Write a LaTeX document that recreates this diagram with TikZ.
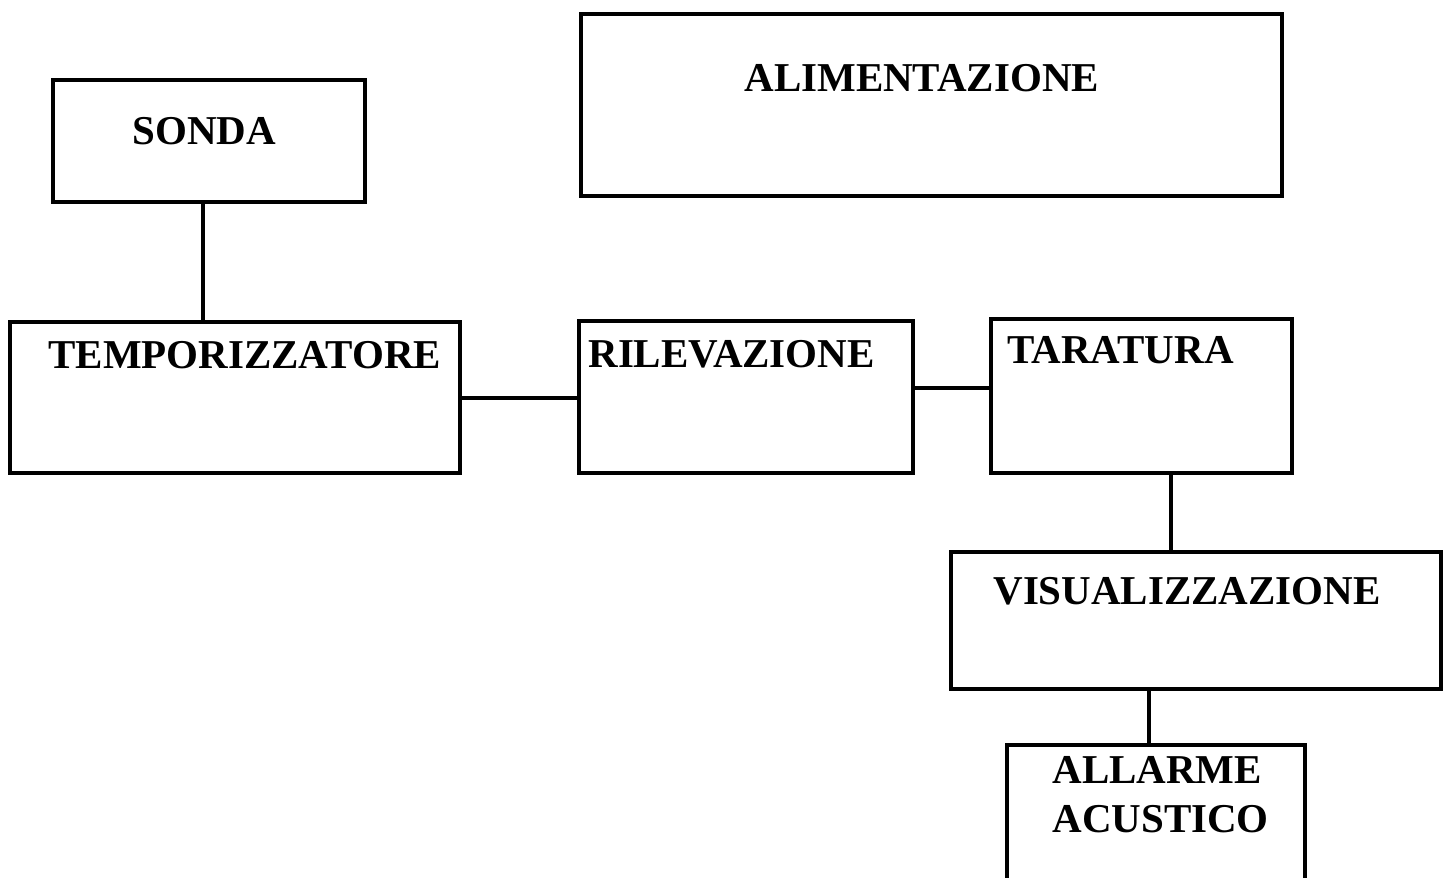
\documentclass[tikz,border=0pt]{standalone}
\usepackage{fontspec}
\setmainfont{Liberation Serif}
\begin{document}
\begin{tikzpicture}[x=0.5pt,y=-0.5pt,
  box/.style={draw,line width=1.7pt,inner sep=0pt,rectangle},
  txt/.style={anchor=base west,inner sep=0pt,font=\fontsize{20.5pt}{24.5pt}\selectfont\bfseries},
  link/.style={line width=1.7pt}]
\useasboundingbox (0,0) rectangle (1447,878);
\node[box,minimum width=156pt,minimum height=61pt] (sonda) at (209,141) {};
\node[box,minimum width=350.5pt,minimum height=91pt] (alim) at (931.5,105) {};
\node[box,minimum width=225pt,minimum height=75.5pt] (temp) at (235,397.5) {};
\node[box,minimum width=167pt,minimum height=76pt] (rile) at (746,397) {};
\node[box,minimum width=150.5pt,minimum height=77pt] (tara) at (1141.5,396) {};
\node[box,minimum width=245pt,minimum height=68.5pt] (visu) at (1196,620.5) {};
\node[box,minimum width=149pt,minimum height=80pt] (allarme) at (1156,825) {};

\node[txt] (tsonda) at (132,144) {SONDA};
\node[txt] (talim) at (744,91) {ALIMENTAZIONE};
\node[txt] (ttemp) at (48,368) {TEMPORIZZATORE};
\node[txt] (trile) at (588,367) {RILEVAZIONE};
\node[txt] (ttara) at (1007,363) {TARATURA};
\node[txt] (tvisu) at (993,604) {VISUALIZZAZIONE};
\node[txt] (tall1) at (1052,783) {ALLARME};
\node[txt] (tall2) at (1052,832) {ACUSTICO};

\coordinate (c1) at (203,0);
\coordinate (c2) at (0,398);
\coordinate (c3) at (0,388);
\coordinate (c4) at (1171,0);
\coordinate (c5) at (1149,0);
\draw[link] (sonda.south -| c1) -- (temp.north -| c1);
\draw[link] (temp.east |- c2) -- (rile.west |- c2);
\draw[link] (rile.east |- c3) -- (tara.west |- c3);
\draw[link] (tara.south -| c4) -- (visu.north -| c4);
\draw[link] (visu.south -| c5) -- (allarme.north -| c5);
\end{tikzpicture}
\end{document}
